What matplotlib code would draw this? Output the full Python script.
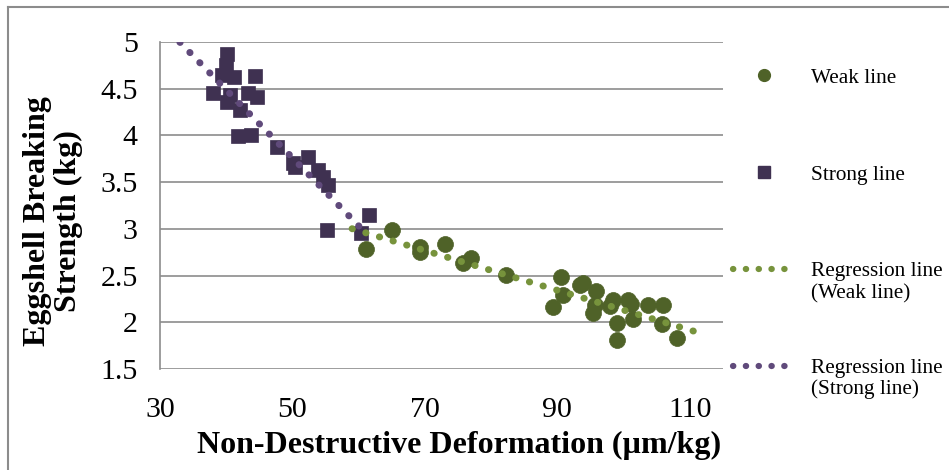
import numpy as np
import matplotlib.pyplot as plt
from matplotlib.lines import Line2D

# Weak line: deformation (um/kg) vs breaking strength (kg)
weak_x = [65.1, 61.1, 69.2, 69.2, 73.0, 75.8, 76.9, 82.3, 90.5, 89.3, 90.8, 93.4, 93.8,
          95.9, 95.6, 95.3, 98.4, 98.0, 100.6, 101.1, 101.4, 99.0, 99.0, 103.7, 106.0,
          105.8, 108.0]
weak_y = [2.99, 2.78, 2.81, 2.75, 2.84, 2.63, 2.69, 2.51, 2.48, 2.16, 2.29, 2.40, 2.42,
          2.33, 2.18, 2.10, 2.24, 2.17, 2.24, 2.20, 2.04, 1.99, 1.81, 2.19, 2.19,
          1.98, 1.83]

# Strong line
strong_x = [40.1, 39.9, 39.3, 41.1, 44.3, 38.0, 40.6, 43.3, 44.6, 40.1, 42.1, 41.8,
            43.8, 47.6, 50.1, 50.4, 52.3, 53.8, 54.6, 55.3, 55.2, 61.6, 60.3]
strong_y = [4.87, 4.75, 4.65, 4.63, 4.64, 4.45, 4.43, 4.45, 4.41, 4.36, 4.27, 3.99,
            4.00, 3.88, 3.70, 3.66, 3.77, 3.63, 3.56, 3.47, 2.99, 3.15, 2.96]

# linear trend lines: slope, intercept and drawn x range
weak_fit = (-0.02126, 4.256)
weak_fit_range = [59.0, 112.5]
strong_fit = (-0.0728, 7.40)
strong_fit_range = [33.0, 61.0]

c_weak = '#4F6228'
c_weak_reg = '#77933C'
c_strong = '#3F3151'
c_strong_reg = '#604A7B'
grid_c = '#8C8C8C'

plt.rcParams['font.family'] = ['Liberation Serif', 'DejaVu Serif']

fig = plt.figure(figsize=(9.49, 4.70), dpi=100)
ax = fig.add_axes([160/949, 1 - 369/470, (723-160)/949, (369-42)/470])

ax.plot(weak_x, weak_y, 'o', color=c_weak, ms=11.5, mec=c_weak, mew=0.5, zorder=3)
ax.plot(strong_x, strong_y, 's', color=c_strong, ms=10, mec=c_strong, mew=0.5, zorder=3)

dots = (0, (0.05, 2.0))
wx = np.array(weak_fit_range)
ax.plot(wx, weak_fit[0]*wx + weak_fit[1], ls=dots, lw=5, color=c_weak_reg,
        dash_capstyle='round', zorder=4)
sx = np.array(strong_fit_range)
ax.plot(sx, strong_fit[0]*sx + strong_fit[1], ls=dots, lw=5, color=c_strong_reg,
        dash_capstyle='round', zorder=4)

ax.set_xlim(30, 115)
ax.set_ylim(1.5, 5)
ax.set_xticks([30, 50, 70, 90, 110])
ax.set_yticks(np.arange(1.5, 5.01, 0.5))
ax.set_yticklabels(['1.5', '2', '2.5', '3', '3.5', '4', '4.5', '5'])
ax.tick_params(length=0, labelsize=21.5)
ax.tick_params(axis='x', pad=20)
ax.tick_params(axis='y', pad=16)
ax.grid(axis='y', color=grid_c, lw=1.2)
ax.set_axisbelow(True)
for s in ['top', 'right', 'bottom']:
    ax.spines[s].set_visible(False)
ax.spines['left'].set_color(grid_c)
ax.spines['left'].set_linewidth(1.2)

fig.text(459/949, 1 - 453/470, 'Non-Destructive Deformation (µm/kg)',
         fontsize=23, fontweight='bold', ha='center', va='baseline')
fig.text(53/949, 1 - 221/470, 'Eggshell Breaking\nStrength (kg)', rotation=90,
         fontsize=23, fontweight='bold', ha='center', va='center', multialignment='center',
         linespacing=1.12)

handles = [
    Line2D([], [], marker='o', ls='none', color=c_weak, ms=8.5),
    Line2D([], [], marker='s', ls='none', color=c_strong, ms=8),
    Line2D([], [], ls=dots, lw=4.5, color=c_weak_reg, dash_capstyle='round'),
    Line2D([], [], ls=dots, lw=4.5, color=c_strong_reg, dash_capstyle='round'),
]
labels = ['Weak line', 'Strong line', 'Regression line', 'Regression line']
fig.legend(handles, labels, loc='upper left', bbox_to_anchor=(733/949, 1 - 68/470),
           bbox_transform=fig.transFigure, frameon=False, fontsize=15.3,
           borderpad=0, borderaxespad=0, handlelength=2.9, handletextpad=0.75,
           labelspacing=3.62)
fig.text(811/949, 1 - 294/470, '(Weak line)', fontsize=15.3, va='center', ha='left')
fig.text(811/949, 1 - 389/470, '(Strong line)', fontsize=15.3, va='center', ha='left')

# chart border
fig.add_artist(Line2D([8/949, 8/949], [0, 1 - 7/470], color=grid_c, lw=1.5))
fig.add_artist(Line2D([8/949, 1], [1 - 7/470, 1 - 7/470], color=grid_c, lw=1.5))

fig.savefig('out.png', dpi=100)
